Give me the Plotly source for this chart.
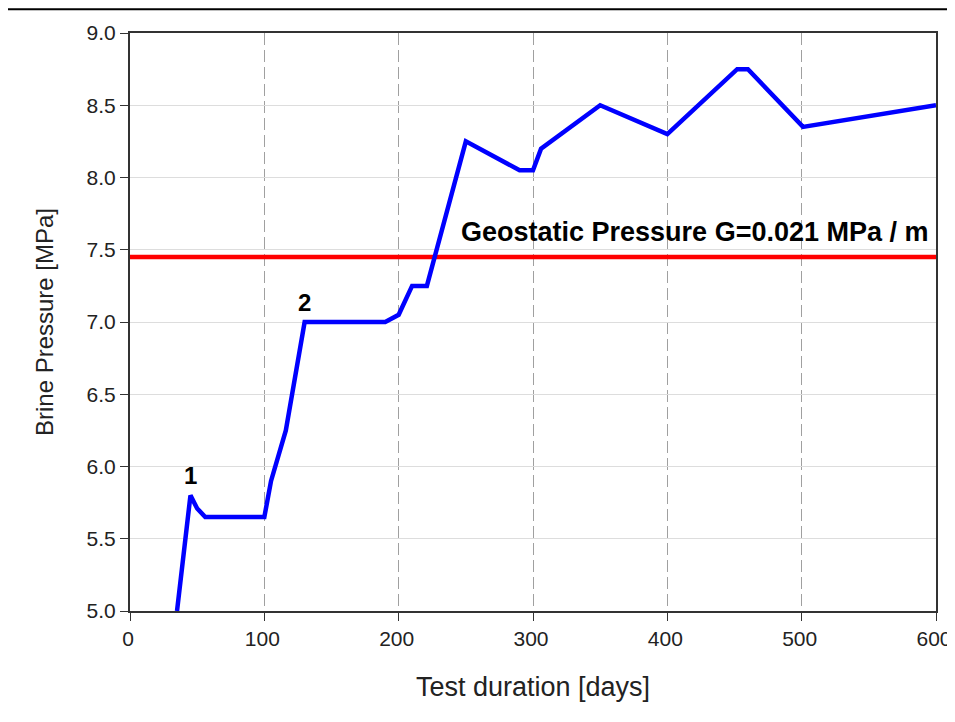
import plotly.graph_objects as go

# test duration [days] and brine pressure [MPa]
days = [35, 45, 50, 56, 100, 105, 116, 130, 190, 200, 210, 221, 250, 290, 300, 306, 350, 400, 452, 460, 501, 600]
pressure = [5.0, 5.8, 5.71, 5.65, 5.65, 5.9, 6.25, 7.0, 7.0, 7.05, 7.25, 7.25, 8.25, 8.05, 8.05, 8.2, 8.5, 8.3, 8.75, 8.75, 8.35, 8.5]

geo_days = [0, 600]
geo_pressure = [7.45, 7.45]
geo_label = "Geostatic Pressure G=0.021 MPa / m"

point_labels = ["1", "2"]
point_days = [45, 130]
point_pressure = [5.8, 7.0]

font_family = "Liberation Sans, Arial, sans-serif"

fig = go.Figure()
fig.add_trace(go.Scatter(x=geo_days, y=geo_pressure, mode="lines",
                         line=dict(color="#ff0000", width=4.5), showlegend=False))
fig.add_trace(go.Scatter(x=days, y=pressure, mode="lines",
                         line=dict(color="#0000ff", width=4.5), showlegend=False))

for lab, xd, yp in zip(point_labels, point_days, point_pressure):
    fig.add_annotation(x=xd, y=yp, text="<b>" + lab + "</b>", showarrow=False,
                       yanchor="bottom", yshift=4, font=dict(size=24, color="black", family=font_family))

fig.add_annotation(x=geo_days[1], y=geo_pressure[0], text="<b>" + geo_label + "</b>", showarrow=False,
                   xanchor="right", yanchor="bottom", xshift=-5, yshift=8,
                   font=dict(size=27, color="black", family=font_family))

# rule across the top of the page (page body already has an 8px margin)
fig.add_shape(type="line", xref="paper", yref="paper", x0=-0.17, x1=1.03, y0=1.041, y1=1.041,
              line=dict(color="black", width=2))

fig.update_xaxes(range=[0, 600], dtick=100, showgrid=True, gridcolor="#a0a0a0", griddash="12px,5px", gridwidth=1,
                 showline=True, linecolor="#333333", linewidth=2, mirror=True, automargin=False,
                 ticks="outside", ticklen=8, tickcolor="#333333", zeroline=False, ticklabelshift=-2,
                 tickfont=dict(size=21, color="#222222"),
                 title=dict(text="Test duration [days]", font=dict(size=27, color="#222222"), standoff=28))
fig.update_yaxes(range=[5.0, 9.0], dtick=0.5, tickformat=".1f", showgrid=True, gridcolor="#dddddd", gridwidth=1,
                 showline=True, linecolor="#333333", linewidth=2, mirror=True, automargin=False,
                 ticks="outside", ticklen=8, tickcolor="#333333", zeroline=False,
                 tickfont=dict(size=21, color="#222222"),
                 title=dict(text="Brine Pressure [MPa]", font=dict(size=24, color="#222222"), standoff=26))

fig.update_layout(width=947, height=714, margin=dict(l=122, r=19, t=25, b=111),
                  plot_bgcolor="white", paper_bgcolor="white",
                  font=dict(family=font_family))

fig.write_html("out.html")
